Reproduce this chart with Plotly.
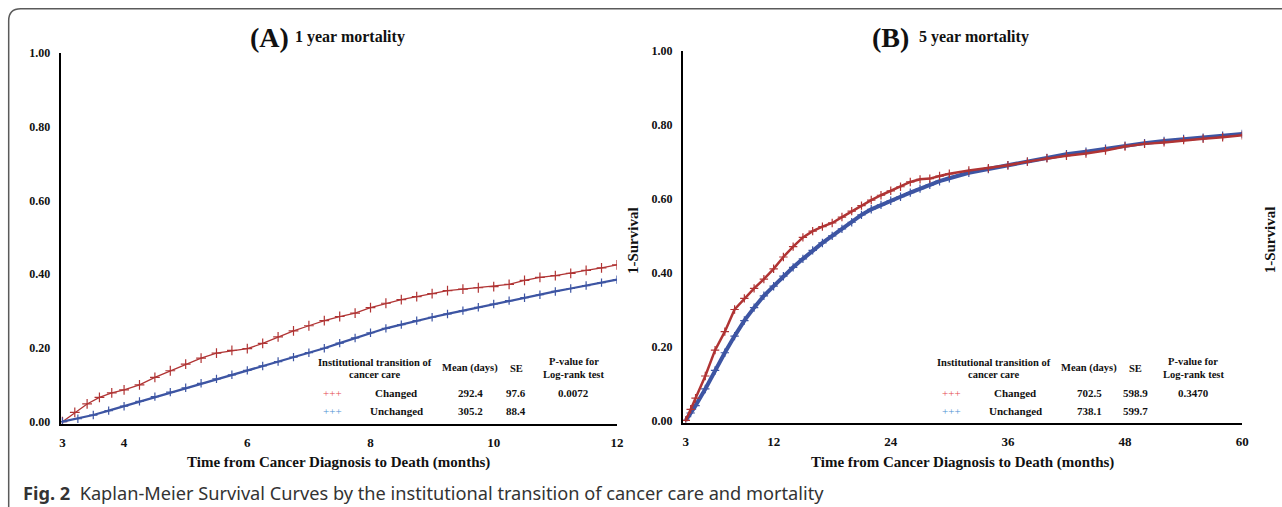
import plotly.graph_objects as go

W, H = 1282, 507

# ---------------- data ----------------
a_months_changed = [3.0, 3.2, 3.4, 3.6, 3.8, 4.0, 4.25, 4.5, 4.75, 5.0, 5.25, 5.5, 5.75, 6.0,
                    6.25, 6.5, 6.75, 7.0, 7.25, 7.5, 7.75, 8.0, 8.25, 8.5, 8.75, 9.0, 9.25,
                    9.5, 9.75, 10.0, 10.25, 10.5, 10.75, 11.0, 11.25, 11.5, 11.75, 12.0]
a_changed = [0.0, 0.025, 0.048, 0.066, 0.078, 0.086, 0.100, 0.120, 0.138, 0.156, 0.172, 0.186,
             0.193, 0.198, 0.212, 0.230, 0.246, 0.260, 0.274, 0.285, 0.294, 0.309, 0.321,
             0.331, 0.339, 0.347, 0.355, 0.359, 0.363, 0.366, 0.372, 0.383, 0.391, 0.396,
             0.402, 0.410, 0.417, 0.425]

a_months_unchanged = [3.0, 3.25, 3.5, 3.75, 4.0, 4.25, 4.5, 4.75, 5.0, 5.25, 5.5, 5.75, 6.0,
                      6.25, 6.5, 6.75, 7.0, 7.25, 7.5, 7.75, 8.0, 8.25, 8.5, 8.75, 9.0, 9.25,
                      9.5, 9.75, 10.0, 10.25, 10.5, 10.75, 11.0, 11.25, 11.5, 11.75, 12.0]
a_unchanged = [0.0, 0.008, 0.018, 0.030, 0.042, 0.055, 0.068, 0.080, 0.092, 0.104, 0.116,
               0.127, 0.139, 0.151, 0.163, 0.175, 0.187, 0.199, 0.213, 0.227, 0.241, 0.253,
               0.263, 0.274, 0.283, 0.292, 0.301, 0.310, 0.319, 0.328, 0.336, 0.344, 0.353,
               0.361, 0.369, 0.377, 0.385]

b_months_changed = [3, 3.5, 4, 5, 6, 7, 8, 9, 10, 11, 12, 13, 14, 15, 16, 17, 18, 19, 20, 21,
                    22, 23, 24, 25, 26, 27, 28, 29, 30, 32, 34, 36, 38, 40, 42, 44, 46, 48,
                    50, 52, 54, 56, 58, 60]
b_changed = [0.0, 0.03, 0.06, 0.12, 0.19, 0.24, 0.30, 0.33, 0.357, 0.382, 0.41, 0.442, 0.47,
             0.495, 0.512, 0.524, 0.534, 0.55, 0.566, 0.581, 0.596, 0.609, 0.621, 0.632,
             0.645, 0.652, 0.654, 0.661, 0.667, 0.676, 0.682, 0.69, 0.70, 0.709, 0.716,
             0.722, 0.73, 0.741, 0.748, 0.752, 0.758, 0.762, 0.766, 0.771]

b_months_unchanged = [3, 3.5, 4, 5, 6, 7, 8, 9, 10, 11, 12, 13, 14, 15, 16, 17, 18, 19, 20,
                      21, 22, 23, 24, 25, 26, 27, 28, 29, 30, 32, 34, 36, 38, 40, 42, 44, 46,
                      48, 50, 52, 54, 56, 58, 60]
b_unchanged = [0.0, 0.02, 0.04, 0.085, 0.135, 0.183, 0.228, 0.27, 0.305, 0.337, 0.363, 0.39,
               0.414, 0.437, 0.46, 0.48, 0.499, 0.518, 0.536, 0.556, 0.571, 0.583, 0.594,
               0.605, 0.616, 0.627, 0.637, 0.647, 0.655, 0.67, 0.68, 0.69, 0.70, 0.71, 0.72,
               0.727, 0.735, 0.743, 0.75, 0.756, 0.761, 0.765, 0.77, 0.775]

a_xticks = [3, 4, 6, 8, 10, 12]
b_xticks = [3, 12, 24, 36, 48, 60]
y_ticks = [0.0, 0.2, 0.4, 0.6, 0.8, 1.0]
y_ticklabels = ["0.00", "0.20", "0.40", "0.60", "0.80", "1.00"]

groups = ["Changed", "Unchanged"]
a_mean = ["292.4", "305.2"]
a_se = ["97.6", "88.4"]
a_p = "0.0072"
b_mean = ["702.5", "738.1"]
b_se = ["598.9", "599.7"]
b_p = "0.3470"

# ---------------- styling ----------------
RED = "#b03434"
BLUE = "#3d55a3"
RED_L = "#e5484f"
BLUE_L = "#4f92d3"
SERIF = "Liberation Serif"


# layout helpers: convert target pixel positions into paper fractions
def fx(px):
    return (60 + (px - 60) / 0.995) / W


def fy(py):
    return 1 - (8 + (py - 14) / 0.979) / H


fig = go.Figure()


def add_curve(x, y, color, xa, ya, msize, lw, mw):
    fig.add_trace(go.Scatter(
        x=x, y=y, mode="lines+markers", xaxis=xa, yaxis=ya,
        line=dict(color=color, width=lw),
        marker=dict(symbol="cross-thin", size=msize, color=color,
                    line=dict(color=color, width=mw)),
        showlegend=False, hoverinfo="skip"))


add_curve(a_months_changed, a_changed, RED, "x", "y", 7, 1.3, 1.2)
add_curve(a_months_unchanged, a_unchanged, BLUE, "x", "y", 6, 2.2, 1.2)
add_curve(b_months_unchanged, b_unchanged, BLUE, "x2", "y2", 6, 4, 1.2)
add_curve(b_months_changed, b_changed, RED, "x2", "y2", 6, 2.5, 1.2)

axis_common = dict(showgrid=False, zeroline=False, showline=True, linecolor="black",
                   linewidth=2, ticks="", mirror=False)
yfont = dict(family=SERIF, size=12, color="#111", weight="bold")
xfont = dict(family=SERIF, size=13, color="#111", weight="bold")

fig.update_layout(
    width=W, height=H, margin=dict(l=0, r=0, t=0, b=0),
    paper_bgcolor="white", plot_bgcolor="white",
    xaxis=dict(domain=[fx(60), fx(617)], range=[2.97, 12.0], tickvals=a_xticks,
               anchor="y", ticklabelstandoff=6, tickfont=xfont, **axis_common),
    yaxis=dict(domain=[fy(424.2), fy(52)], range=[-0.006, 1.0], tickvals=y_ticks,
               ticktext=y_ticklabels, anchor="x", ticklabelstandoff=6, tickfont=yfont,
               **axis_common),
    xaxis2=dict(domain=[fx(683), fx(1243)], range=[2.7, 60.0], tickvals=b_xticks,
                anchor="y2", ticklabelstandoff=6, tickfont=xfont, **axis_common),
    yaxis2=dict(domain=[fy(422.9), fy(50)], range=[-0.006, 1.0], tickvals=y_ticks,
                ticktext=y_ticklabels, anchor="x2", ticklabelstandoff=6, tickfont=yfont,
                **axis_common),
)

ann = []


def text(x, y, s, size=11, color="#111", xanchor="center", yanchor="middle",
         family=SERIF, angle=0):
    ann.append(dict(x=fx(x), y=fy(y), xref="paper", yref="paper", text=s,
                    showarrow=False, xanchor=xanchor, yanchor=yanchor, textangle=angle,
                    font=dict(family=family, size=size, color=color)))


# titles
text(291, 37, "<b>(A)</b>", size=28, xanchor="right")
text(293, 36, "<b>1 year mortality</b>", size=16, xanchor="left")
text(911, 37, "<b>(B)</b>", size=28, xanchor="right")
text(917, 36, "<b>5 year mortality</b>", size=16, xanchor="left")

# axis titles
text(338, 463, "<b>Time from Cancer Diagnosis to Death (months)</b>", size=15)
text(963, 463, "<b>Time from Cancer Diagnosis to Death (months)</b>", size=15)
text(633, 240, "<b>1-Survival</b>", size=15, angle=-90)
text(1271, 240, "<b>1-Survival</b>", size=15, angle=-90)


# embedded tables
def table(x0, means, ses, pval):
    text(x0, 362.5, "<b>Institutional transition of</b>", size=10.5)
    text(x0, 374.5, "<b>cancer care</b>", size=10.5)
    text(x0 + 95, 368.5, "<b>Mean (days)</b>", size=10.5)
    text(x0 + 141, 368.5, "<b>SE</b>", size=10.5)
    text(x0 + 199, 361.5, "<b>P-value for</b>", size=10.5)
    text(x0 + 199, 374.5, "<b>Log-rank test</b>", size=10.5)
    rows_y = [393.5, 411.5]
    cols = [RED_L, BLUE_L]
    for i in range(2):
        text(x0 - 43, rows_y[i], "+++", size=11, color=cols[i])
        text(x0 + 21, rows_y[i], "<b>%s</b>" % groups[i], size=11)
        text(x0 + 95, rows_y[i], "<b>%s</b>" % means[i], size=11)
        text(x0 + 141, rows_y[i], "<b>%s</b>" % ses[i], size=11)
    text(x0 + 199, rows_y[0], "<b>%s</b>" % pval, size=11)


table(375, a_mean, a_se, a_p)
table(995, b_mean, b_se, b_p)

# caption
text(20, 493, "<b>Fig. 2</b>  Kaplan-Meier Survival Curves by the institutional transition of cancer care and mortality",
     size=18.2, color="#333", xanchor="left", family="Noto Sans")

fig.update_layout(annotations=ann)

# rounded frame
path = "M %f,%f L %f,%f Q %f,%f %f,%f L %f,%f" % (
    fx(8), fy(520), fx(8), fy(20), fx(8), fy(8), fx(20), fy(8), fx(1300), fy(8))
fig.add_shape(type="path", path=path, xref="paper", yref="paper",
              line=dict(color="#5a5a5a", width=1.5))

js = (
    "document.documentElement.style.margin='0';"
    "document.documentElement.style.padding='0';"
    "document.documentElement.style.overflow='hidden';"
    "document.body.style.margin='0';"
    "document.body.style.padding='0';"
    "document.body.style.overflow='hidden';"
    "var gd=document.querySelector('.plotly-graph-div');"
    "if(gd){gd.style.position='fixed';gd.style.top='0px';gd.style.left='0px';}"
)

fig.write_html("out.html", config={"displayModeBar": False, "responsive": False},
               post_script=js)
